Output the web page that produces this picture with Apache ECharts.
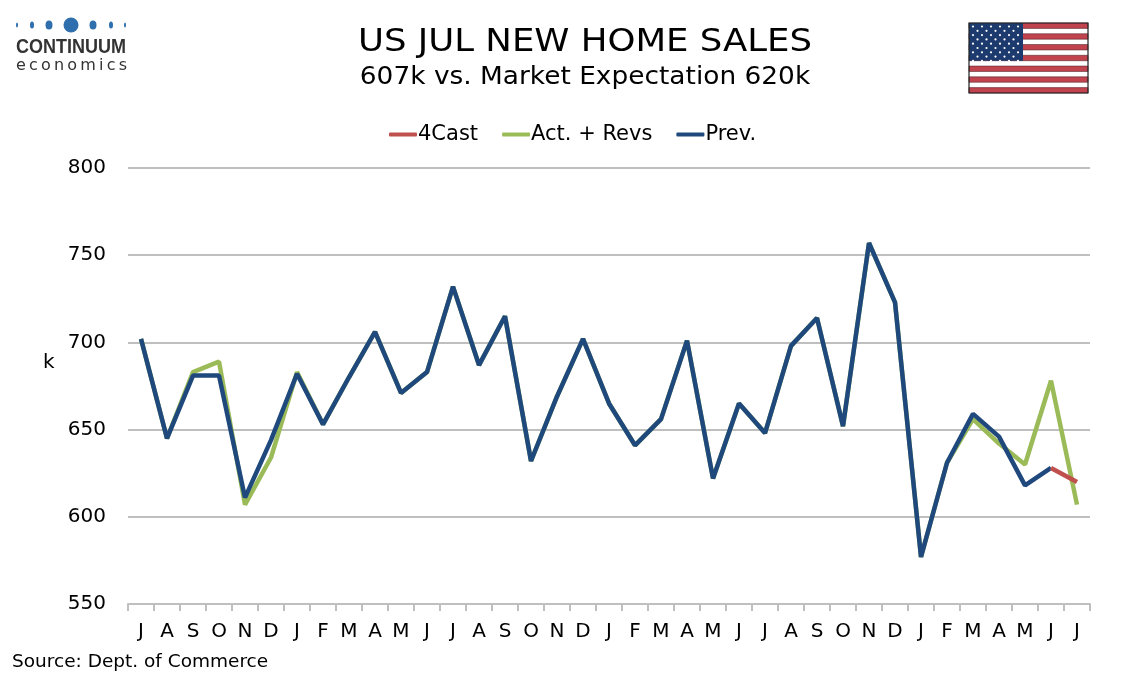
<!DOCTYPE html>
<html lang="en">
<head>
    <meta charset="UTF-8">
    <title>US Jul New Home Sales</title>
    <script src="https://cdn.jsdelivr.net/npm/echarts@6/dist/echarts.min.js"></script>
    <style>
        html, body { margin: 0; padding: 0; background: #fff; }
        #chart { width: 1134px; height: 680px; }
    </style>
</head>
<body>
<div id="chart"></div>
<script>
    // month labels, Jul through Jul three years later
    var months = ['J','A','S','O','N','D','J','F','M','A','M','J',
                  'J','A','S','O','N','D','J','F','M','A','M','J',
                  'J','A','S','O','N','D','J','F','M','A','M','J','J'];

    // previous release (k)
    var prev = [702, 645, 681, 681, 611, 644, 682, 653, 680, 706, 671, 683,
                732, 687, 715, 632, 669, 702, 665, 641, 656, 701, 622, 665,
                648, 698, 714, 652, 757, 723, 577, 631, 659, 646, 618, 628, null];

    // actual + revisions (k)
    var actual = [702, 645, 683, 689, 607, 634, 683, 653, 680, 706, 671, 683,
                  732, 687, 715, 632, 669, 702, 665, 641, 656, 701, 622, 665,
                  648, 698, 714, 652, 757, 723, 577, 631, 656, 642, 630, 678, 607];

    // forecast segment (k)
    var fcast = [];
    for (var i = 0; i < months.length; i++) fcast.push(null);
    fcast[35] = 628;
    fcast[36] = 620;

    var font = 'DejaVu Sans';
    var chart = echarts.init(document.getElementById('chart'));

    // flag in the top right corner
    var flag = [];
    var fx = 969, fy = 23, fw = 119, fh = 70, sh = fh / 13;
    flag.push({ type: 'rect', shape: { x: fx, y: fy, width: fw, height: fh }, style: { fill: '#fff' } });
    for (var s = 0; s < 13; s += 2) {
        flag.push({ type: 'rect', shape: { x: fx, y: fy + s * sh, width: fw, height: sh },
                    style: { fill: '#c0434e', stroke: '#5a2a30', lineWidth: 0.6 } });
    }
    flag.push({ type: 'rect', shape: { x: fx, y: fy, width: 54, height: sh * 7 }, style: { fill: '#1c3a6e' } });
    for (var r = 0; r < 9; r++) {
        var n = (r % 2 === 0) ? 6 : 5;
        for (var c = 0; c < n; c++) {
            var sx = fx + 4 + (r % 2 === 0 ? 0 : 4.5) + c * 9;
            flag.push({ type: 'circle', shape: { cx: sx, cy: fy + 3.5 + r * 4.3, r: 1.1 }, style: { fill: '#fff' } });
        }
    }
    flag.push({ type: 'rect', shape: { x: fx, y: fy, width: fw, height: fh }, style: { fill: 'none', stroke: '#222', lineWidth: 1.2 } });

    // company logo, top left
    var logo = [];
    var dots = [[17, 1, 2.5], [32, 2, 3.5], [49, 3.5, 4.5], [71, 7.5, 7.5], [93, 3.5, 4.5], [111, 2, 3.5], [125, 1, 2.5]];
    dots.forEach(function (d) {
        logo.push({ type: 'circle', x: d[0], y: 25, scaleX: d[1] / d[2],
                    shape: { cx: 0, cy: 0, r: d[2] }, style: { fill: '#2f6fae' } });
    });
    logo.push({ type: 'text', x: 16, y: 37, scaleX: 0.9,
                style: { text: 'CONTINUUM', font: 'bold 20px "Liberation Sans"', fill: '#333' } });

    // spaced-out "economics" under the logo, one letter at a time
    var ctx = document.createElement('canvas').getContext('2d');
    var ecoFont = '16px "' + font + '"';
    ctx.font = ecoFont;
    var word = 'economics';
    var total = 0;
    for (var k = 0; k < word.length; k++) total += ctx.measureText(word[k]).width;
    var gap = (111 - total) / (word.length - 1);
    var px = 16;
    for (var k = 0; k < word.length; k++) {
        logo.push({ type: 'text', x: px, y: 58, style: { text: word[k], font: ecoFont, fill: '#333' } });
        px += ctx.measureText(word[k]).width + gap;
    }

    var texts = [
        { type: 'text', x: 585, y: 27, scaleX: 1.11,
          style: { text: 'US JUL NEW HOME SALES', font: '32px ' + font, fill: '#000', textAlign: 'center' } },
        { type: 'text', x: 585, y: 66, scaleX: 1.1,
          style: { text: '607k vs. Market Expectation 620k', font: '24px ' + font, fill: '#000', textAlign: 'center' } },
        { type: 'text', x: 12, y: 653,
          style: { text: 'Source: Dept. of Commerce', font: '18.5px ' + font, fill: '#000' } },
        { type: 'text', x: 43, y: 353,
          style: { text: 'k', font: '20px ' + font, fill: '#000' } }
    ];

    var options = {
        backgroundColor: '#fff',
        animation: false,
        legend: {
            top: 119, left: 384,
            itemWidth: 28, itemHeight: 4, itemGap: 24,
            icon: 'roundRect',
            textStyle: { fontFamily: font, fontSize: 21, color: '#000', padding: [0, 0, 0, -4] },
            data: ['4Cast', 'Act. + Revs', 'Prev.']
        },
        grid: { left: 128, right: 44, top: 168, bottom: 76 },
        xAxis: {
            type: 'category',
            data: months,
            boundaryGap: true,
            axisLine: { lineStyle: { color: '#bfbfbf', width: 2 } },
            axisTick: { show: true, length: 7, lineStyle: { color: '#bfbfbf', width: 2 } },
            axisLabel: { interval: 0, fontFamily: font, fontSize: 20, color: '#000', margin: 18 }
        },
        yAxis: {
            type: 'value',
            min: 550, max: 800, interval: 50,
            axisLine: { show: false },
            axisTick: { show: false },
            axisLabel: { fontFamily: font, fontSize: 20, color: '#000', margin: 22 },
            splitLine: { lineStyle: { color: '#bfbfbf', width: 2 } }
        },
        series: [
            { name: '4Cast', type: 'line', data: fcast, symbol: 'none', z: 4,
              lineStyle: { color: '#c0504d', width: 4.5 }, itemStyle: { color: '#c0504d' } },
            { name: 'Act. + Revs', type: 'line', data: actual, symbol: 'none', z: 2,
              lineStyle: { color: '#9bbb59', width: 4.5 }, itemStyle: { color: '#9bbb59' } },
            { name: 'Prev.', type: 'line', data: prev, symbol: 'none', z: 3,
              lineStyle: { color: '#1f497d', width: 4.5 }, itemStyle: { color: '#1f497d' } }
        ],
        graphic: logo.concat(flag, texts)
    };

    chart.setOption(options);
</script>
</body>
</html>
